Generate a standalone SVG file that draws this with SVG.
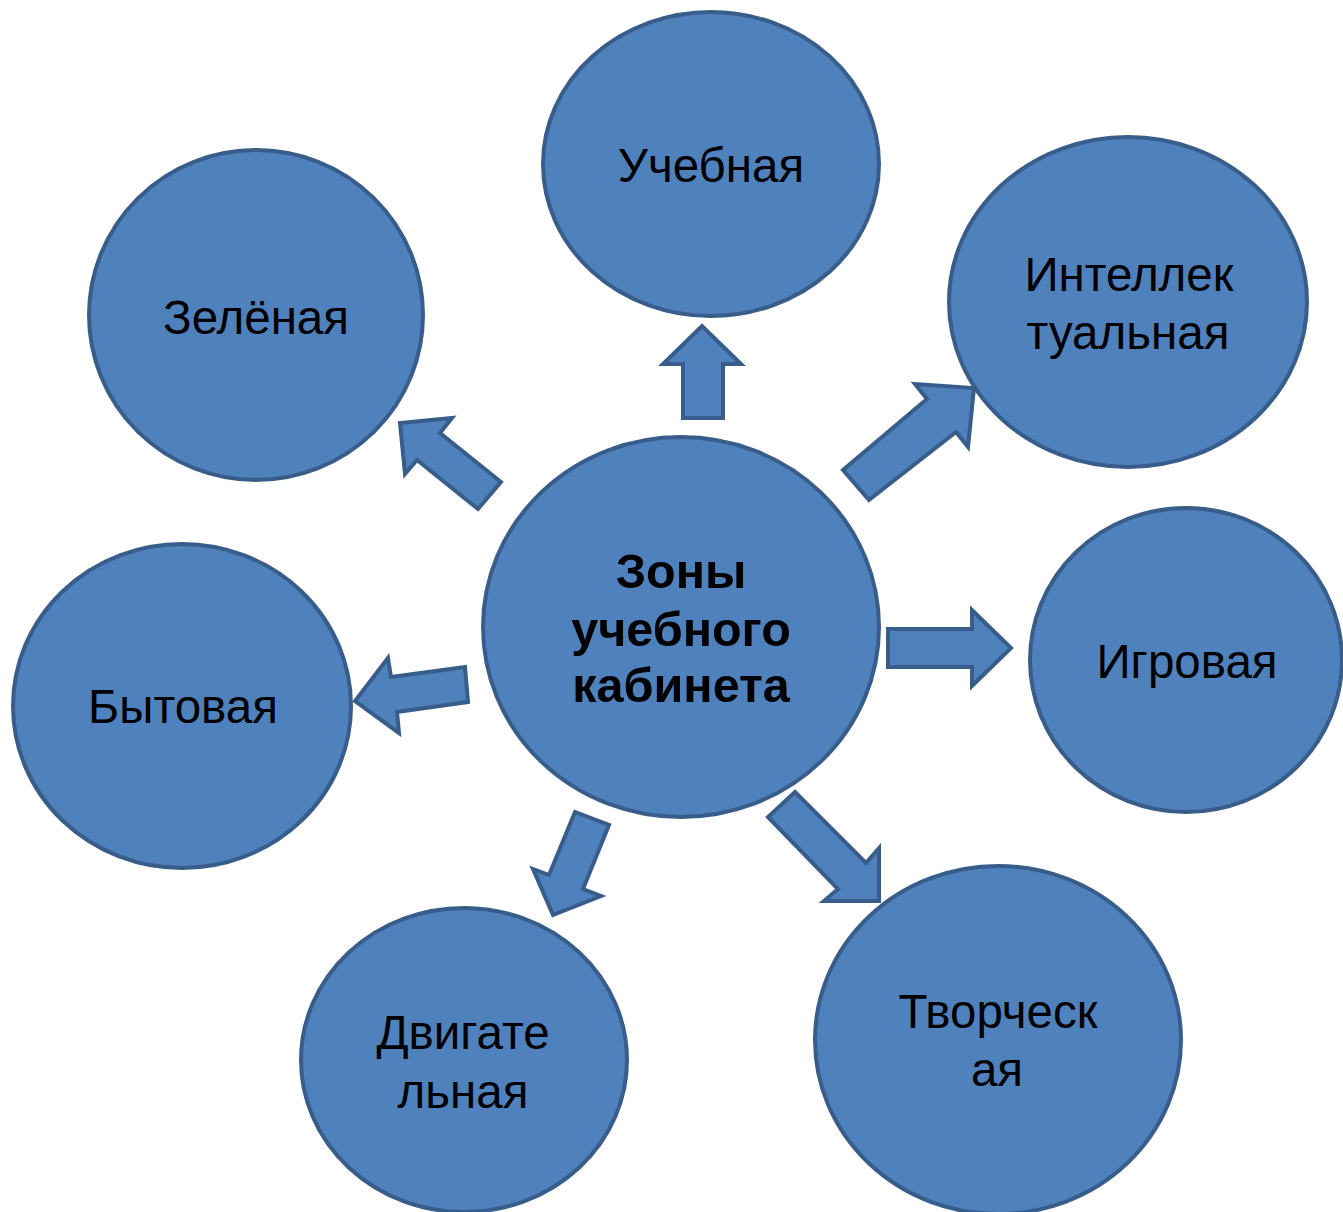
<svg xmlns="http://www.w3.org/2000/svg" width="1343" height="1212" viewBox="0 0 1343 1212">
<style>
.n{fill:#4F81BD;stroke:#385D8A;stroke-width:4}
.a{fill:#4F81BD;stroke:#385D8A;stroke-width:4;stroke-linejoin:miter}
.t{font-family:"Liberation Sans",Arial,sans-serif;font-size:47.5px;fill:#000;text-anchor:middle}
.b{font-weight:bold;font-size:48.5px}
</style>
<rect width="1343" height="1212" fill="#fff"/>
<g id="connectors">
<polygon class="a" points="683,418 723,418 723,364 741,364 702,326 663,364 683,364"/>
<polygon class="a" points="869,500 956,432 968,447 974,388 915,384 927,399 843,470"/>
<polygon class="a" points="888,629 972,629 972,610 1011,648 972,686 972,667 888,667"/>
<polygon class="a" points="795,792 866,863 879,848 879,901 824,901 838,889 768,817"/>
<polygon class="a" points="609,825 583,889 601,896 553,915 533,869 549,875 575,812"/>
<polygon class="a" points="465,667 468,702 397,712 399,733 355,701 388,658 391,677"/>
<polygon class="a" points="501,482 478,509 417,460 405,474 400,423 452,418 440,433"/>
</g>
<g id="center"><ellipse class="n" cx="681" cy="627" rx="198" ry="190"/>
<text class="t b" x="681" y="588">Зоны</text><text class="t b" x="681" y="646">учебного</text><text class="t b" x="681" y="702">кабинета</text></g>
<g id="uchebnaya"><ellipse class="n" cx="711" cy="164" rx="168" ry="152"/><text class="t" x="711" y="182">Учебная</text></g>
<g id="zelenaya"><ellipse class="n" cx="256" cy="315" rx="167" ry="165"/><text class="t" x="256" y="334">Зелёная</text></g>
<g id="intellektualnaya"><ellipse class="n" cx="1128" cy="302" rx="179" ry="165"/><text class="t" x="1129" y="291">Интеллек</text><text class="t" x="1128" y="349">туальная</text></g>
<g id="igrovaya"><ellipse class="n" cx="1186" cy="660" rx="156" ry="152"/><text class="t" x="1187" y="678">Игровая</text></g>
<g id="bytovaya"><ellipse class="n" cx="182" cy="706" rx="169" ry="162"/><text class="t" x="183" y="723">Бытовая</text></g>
<g id="dvigatelnaya"><ellipse class="n" cx="464" cy="1060" rx="163" ry="152"/><text class="t" x="463" y="1049">Двигате</text><text class="t" x="463" y="1108">льная</text></g>
<g id="tvorcheskaya"><ellipse class="n" cx="998" cy="1040" rx="183" ry="174"/><text class="t" x="998" y="1028">Творческ</text><text class="t" x="997" y="1086">ая</text></g>
</svg>
